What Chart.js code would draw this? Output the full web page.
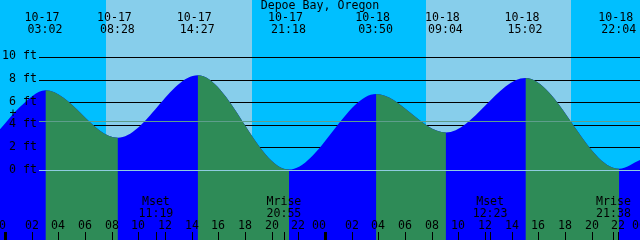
<!DOCTYPE html>
<html>
<head>
<meta charset="utf-8">
<script src="https://cdn.jsdelivr.net/npm/chart.js@4/dist/chart.umd.min.js"></script>
<style>
  body { margin: 0; background: #fff; }
  #wrap { width: 640px; height: 240px; position: relative; }
</style>
</head>
<body>
<div id="wrap"><canvas id="tideChart"></canvas></div>
<script>
const title = 'Depoe Bay, Oregon';

// high / low tides
const extremeTimes = ['10-17 03:02', '10-17 08:28', '10-17 14:27', '10-17 21:18',
                      '10-18 03:50', '10-18 09:04', '10-18 15:02', '10-18 22:04'];
const extremeHeights = [7.06, 2.85, 8.38, 0.04, 6.73, 3.33, 8.15, 0.12];

// curve read at the edges of the picture
const edgeTimes = ['10-16 23:37', '10-17 01:08', '10-18 23:38'];
const edgeHeights = [3.6, 5.6, 0.9];

const sunrise = ['10-17 07:35', '10-18 07:36'];
const sunset = ['10-17 18:30', '10-18 18:28'];

const moonNames = ['Mset', 'Mrise', 'Mset', 'Mrise'];
const moonTimes = ['10-17 11:19', '10-17 20:55', '10-18 12:23', '10-18 21:38'];

const heightTicks = [10, 8, 6, 4, 2, 0];
const meanSeaLevel = 4.38;
const hourTicks = [0, 2, 4, 6, 8, 10, 12, 14, 16, 18, 20, 22, 24, 26, 28, 30, 32, 34, 36, 38, 40, 42, 44, 46, 48];

const FONT = '11.6px "DejaVu Sans Mono", "Liberation Mono", monospace';
const RISE = '#0000FF';
const FALL = '#2E8B57';

// hours since 10-17 00:00
function toHours(s) {
    const [d, t] = s.split(' ');
    const day = Number(d.split('-')[1]) - 17;
    const [h, m] = t.split(':').map(Number);
    return day * 24 + h + m / 60;
}

const curve = edgeTimes.map((t, i) => ({ x: toHours(t), y: edgeHeights[i] }))
    .concat(extremeTimes.map((t, i) => ({ x: toHours(t), y: extremeHeights[i] })))
    .sort((a, b) => a.x - b.x);

const tidePlugin = {
    id: 'tidePlugin',
    beforeDraw(chart) {
        const ctx = chart.ctx;
        const xs = chart.scales.x;
        const area = chart.chartArea;
        ctx.save();
        ctx.fillStyle = '#00BFFF';
        ctx.fillRect(0, 0, chart.width, chart.height);
        ctx.fillStyle = '#87CEEB';
        for (let i = 0; i < sunrise.length; i++) {
            const x1 = Math.round(xs.getPixelForValue(toHours(sunrise[i])));
            const x2 = Math.round(xs.getPixelForValue(toHours(sunset[i])));
            ctx.fillRect(x1, area.top, x2 - x1, area.bottom - area.top);
        }
        ctx.restore();
    },
    beforeDatasetsDraw(chart) {
        const ctx = chart.ctx;
        const ys = chart.scales.y;
        ctx.save();
        ctx.fillStyle = '#000';
        heightTicks.forEach(v => {
            const y = Math.round(ys.getPixelForValue(v));
            ctx.fillRect(39, y, chart.width - 39, 1);
        });
        ctx.restore();
    },
    afterDatasetsDraw(chart) {
        const ctx = chart.ctx;
        const xs = chart.scales.x;
        const ys = chart.scales.y;
        ctx.save();

        // datum and mean sea level
        ctx.fillStyle = '#8FCCE0';
        ctx.fillRect(39, Math.round(ys.getPixelForValue(0)), chart.width - 39, 1);
        ctx.fillStyle = '#5E9E8C';
        ctx.fillRect(39, Math.round(ys.getPixelForValue(meanSeaLevel)), chart.width - 39, 1);

        ctx.font = FONT;
        ctx.fillStyle = '#000';
        ctx.textBaseline = 'middle';

        // height labels
        ctx.textAlign = 'right';
        heightTicks.forEach(v => {
            ctx.fillText(v + ' ft', 37, ys.getPixelForValue(v) - 0.5);
        });

        ctx.textAlign = 'center';
        ctx.fillText(title, 320, 6);
        ctx.fillText('+', 13, 113.5);

        // high / low labels
        extremeTimes.forEach(s => {
            const x = xs.getPixelForValue(toHours(s));
            const [d, t] = s.split(' ');
            ctx.fillText(d, x - 3.5, 17.5);
            ctx.fillText(t, x - 0.5, 29.5);
        });

        // hour ticks
        hourTicks.forEach(h => {
            const x = Math.round(xs.getPixelForValue(h));
            const label = String(h % 24).padStart(2, '0');
            if (h % 24 === 0) {
                ctx.fillRect(x - 1, 232, 3, 8);
                ctx.fillText(label, x - 6, 226);
            } else {
                ctx.fillRect(x, 232, 1, 8);
                ctx.fillText(label, x, 226);
            }
        });

        // moon rise / set
        moonTimes.forEach((s, i) => {
            const x = xs.getPixelForValue(toHours(s));
            ctx.fillRect(Math.round(x), 232, 1, 8);
            ctx.fillText(moonNames[i], x, 201.5);
            ctx.fillText(s.split(' ')[1], x, 213.5);
        });
        ctx.restore();
    }
};

new Chart(document.getElementById('tideChart'), {
    type: 'line',
    data: {
        datasets: [{
            // falling tide, drawn on top
            data: curve,
            borderWidth: 0,
            pointRadius: 0,
            cubicInterpolationMode: 'monotone',
            fill: 'start',
            backgroundColor: FALL,
            segment: {
                backgroundColor: c => c.p1.parsed.y > c.p0.parsed.y ? 'rgba(0,0,0,0)' : FALL
            }
        }, {
            // rising tide underneath
            data: curve,
            borderWidth: 0,
            pointRadius: 0,
            cubicInterpolationMode: 'monotone',
            fill: 'start',
            backgroundColor: RISE
        }]
    },
    options: {
        responsive: true,
        maintainAspectRatio: false,
        animation: false,
        layout: { padding: 0 },
        plugins: { legend: { display: false }, tooltip: { enabled: false } },
        scales: {
            x: { type: 'linear', min: -0.375, max: 47.625, display: false },
            y: { min: -6.19, max: 15.04, display: false }
        }
    },
    plugins: [tidePlugin]
});
</script>
</body>
</html>
